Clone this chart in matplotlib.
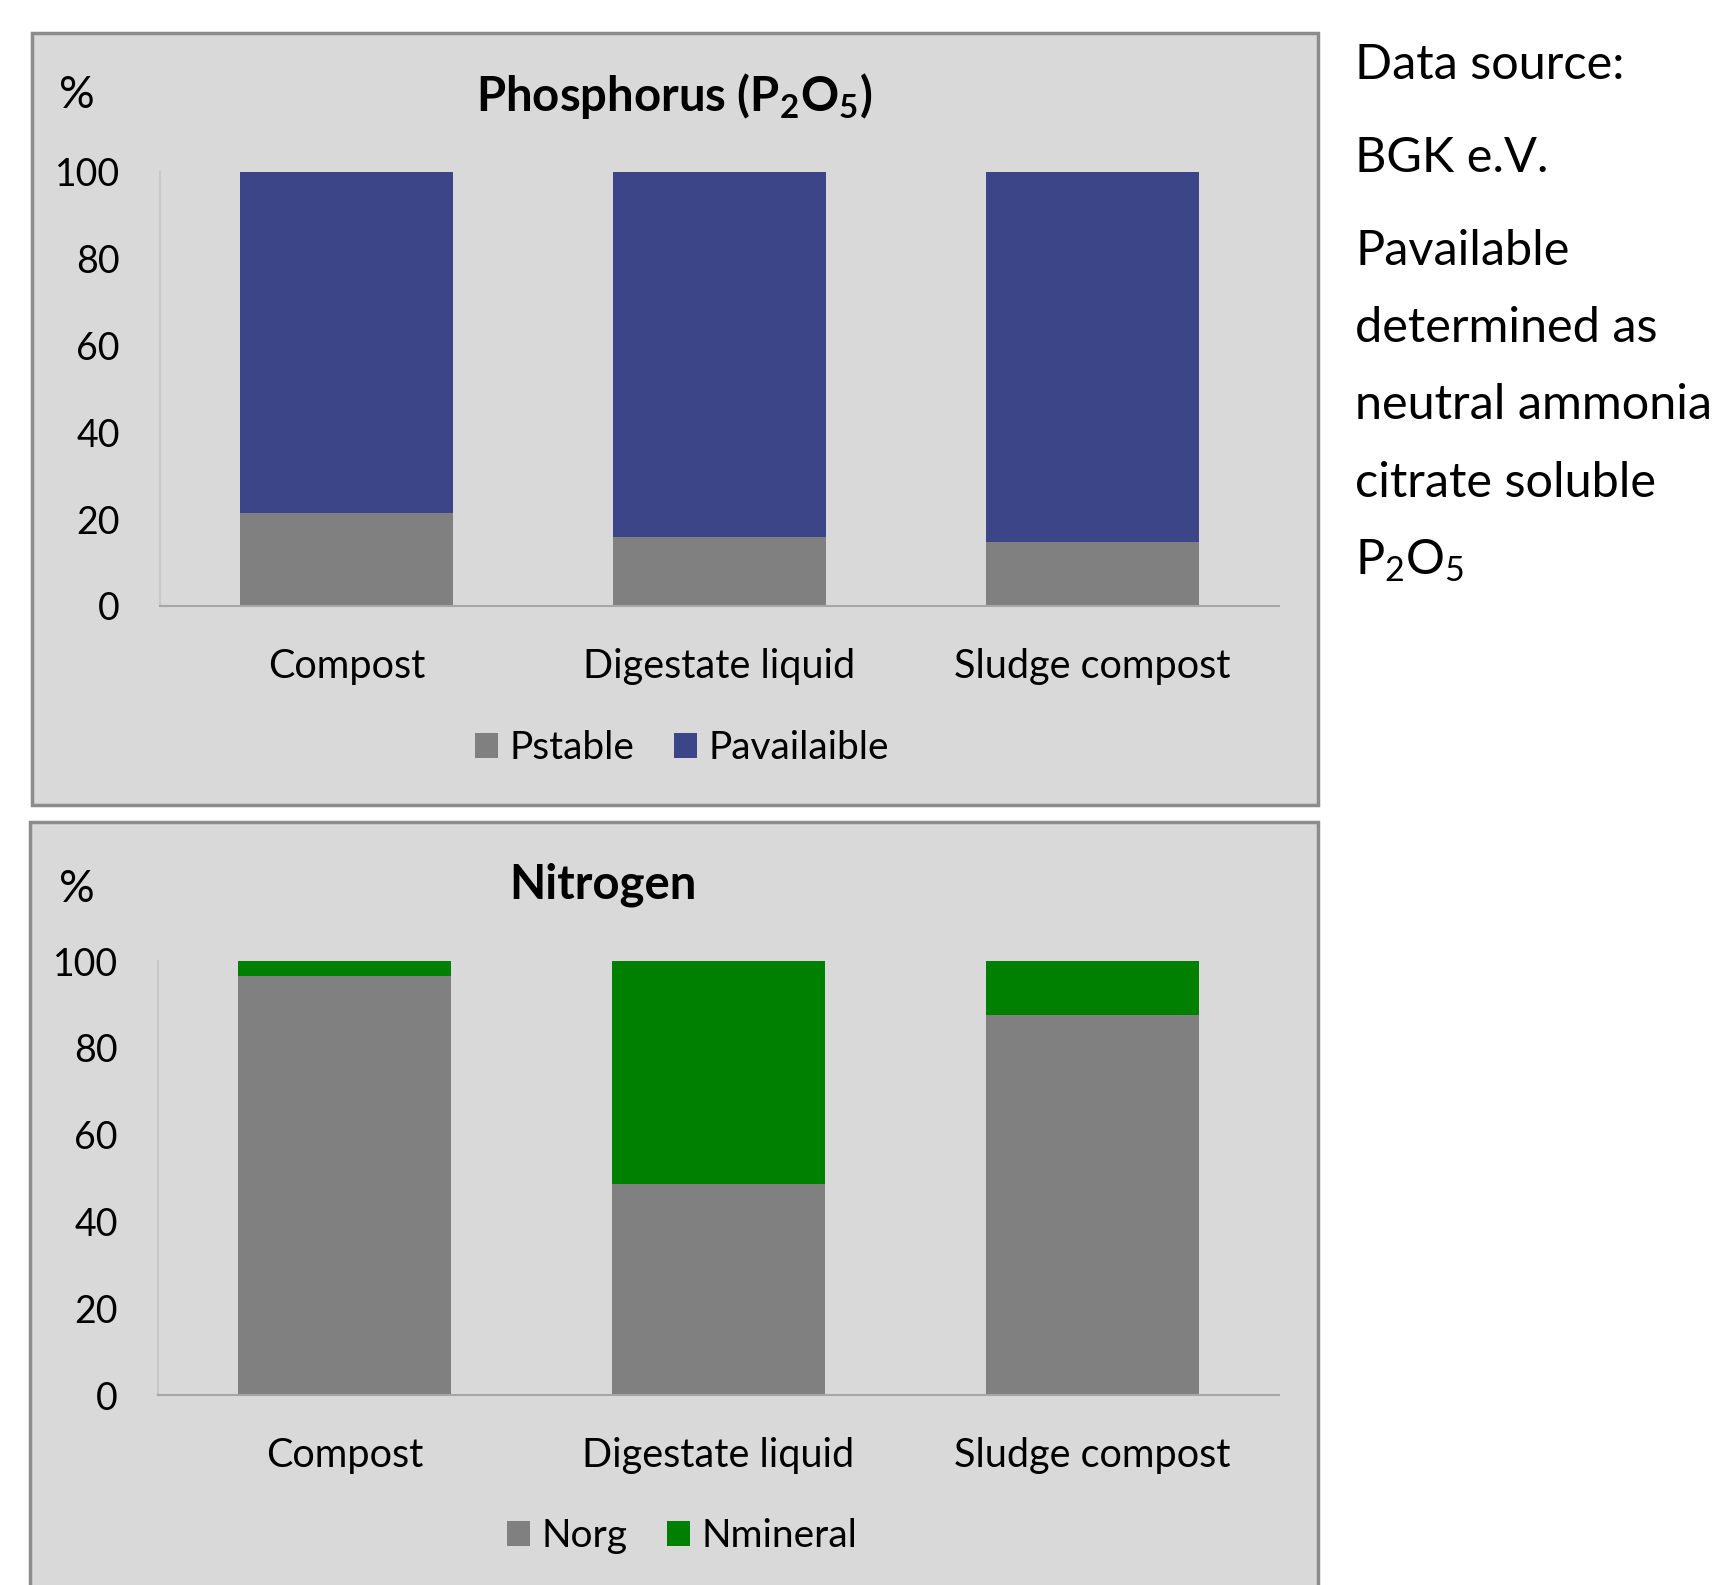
import matplotlib
matplotlib.use("Agg")
import matplotlib.pyplot as plt
from matplotlib.patches import Rectangle
import numpy as np

plt.rcParams['font.family'] = ['Lato', 'DejaVu Sans']
plt.rcParams['mathtext.fontset'] = 'custom'
plt.rcParams['mathtext.rm'] = 'Lato'
plt.rcParams['mathtext.bf'] = 'Lato:bold'
plt.rcParams['mathtext.default'] = 'regular'

categories = ["Compost", "Digestate liquid", "Sludge compost"]
p_stable = [21.5, 15.9, 14.8]
p_available = [78.5, 84.1, 85.2]
n_org = [96.6, 48.7, 87.5]
n_mineral = [3.4, 51.3, 12.5]
yticks = [0, 20, 40, 60, 80, 100]

W, H = 1730, 1585
fig = plt.figure(figsize=(W / 100, H / 100), dpi=100)
fig.patch.set_facecolor("white")

def fx(px):
    return px / W

def fy(py):
    return 1 - py / H

PANEL = "#D9D9D9"
BORDER = "#8C8C8C"
GRAY = "#808080"
BLUE = "#3C4587"
GREEN = "#008000"
SPINE = "#A6A6A6"

# panel boxes
fig.patches.append(Rectangle((fx(32), fy(805)), fx(1318) - fx(32), fy(33) - fy(805),
                             transform=fig.transFigure, facecolor=PANEL,
                             edgecolor=BORDER, linewidth=2.5, zorder=-5))
fig.patches.append(Rectangle((fx(30), fy(1600)), fx(1318) - fx(30), fy(822) - fy(1600),
                             transform=fig.transFigure, facecolor=PANEL,
                             edgecolor=BORDER, linewidth=2.5, zorder=-5))

def make_axes(left, right, top, bottom):
    ax = fig.add_axes([fx(left), fy(bottom), fx(right) - fx(left), fy(top) - fy(bottom)])
    ax.set_facecolor("none")
    ax.set_zorder(5)
    return ax

def style(ax, lower, upper, c_low, c_up, lab_low, lab_up, title, title_x, title_y, pct_y, leg_y):
    x = np.arange(len(categories))
    ax.bar(x, lower, width=0.57, color=c_low, label=lab_low, zorder=2)
    ax.bar(x, upper, width=0.57, bottom=lower, color=c_up, label=lab_up, zorder=2)
    ax.set_xlim(-0.5, 2.5)
    ax.set_ylim(0, 100)
    ax.set_yticks(yticks)
    ax.set_yticklabels([str(t) for t in yticks], fontsize=27)
    ax.set_xticks(x)
    ax.set_xticklabels(categories, fontsize=28.5)
    ax.tick_params(axis='y', length=0, pad=29, colors="black")
    ax.tick_params(axis='x', length=0, pad=30, colors="black")
    for s in ["top", "right"]:
        ax.spines[s].set_visible(False)
    ax.spines["left"].set_color("#C8C8C8")
    ax.spines["bottom"].set_color(SPINE)
    ax.spines["left"].set_linewidth(1.5)
    ax.spines["bottom"].set_linewidth(1.5)
    fig.text(fx(title_x), fy(title_y), title, fontsize=34, fontweight="bold",
             ha="center", va="center")
    fig.text(fx(77), fy(pct_y), "%", fontsize=32, ha="center", va="center")
    ax.legend(loc="center", bbox_to_anchor=(fx(682), fy(leg_y)),
              bbox_transform=fig.transFigure, ncol=2, frameon=False,
              fontsize=28, handlelength=0.6, handleheight=0.6,
              handletextpad=0.3, columnspacing=1.0)

ax1 = make_axes(160, 1279, 172, 606)
style(ax1, p_stable, p_available, GRAY, BLUE, "Pstable", "Pavailaible",
      r"Phosphorus (P$_\mathbf{2}$O$_\mathbf{5}$)", 674, 96, 96, 748)

ax2 = make_axes(158, 1279, 961, 1395)
style(ax2, n_org, n_mineral, GRAY, GREEN, "Norg", "Nmineral",
      "Nitrogen", 603, 885, 890, 1536)

# side note
notes = [("Data source:", 65), ("BGK e.V.", 158), ("Pavailable", 251),
         ("determined as", 328), ("neutral ammonia", 405),
         ("citrate soluble", 483), (r"P$_2$O$_5$", 561)]
for txt, yy in notes:
    fig.text(fx(1355), fy(yy), txt, fontsize=35, ha="left", va="center")

fig.savefig("out.png", dpi=100)
